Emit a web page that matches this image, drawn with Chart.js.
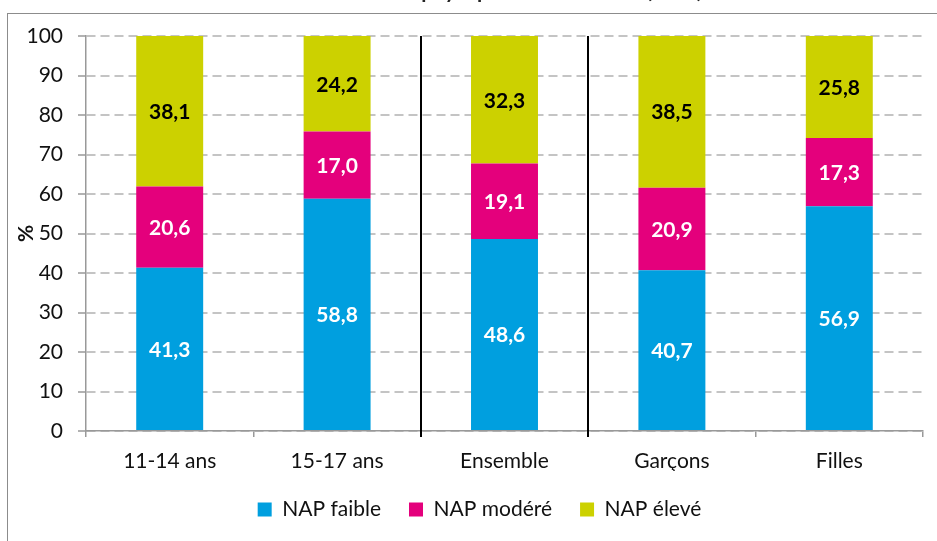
<!DOCTYPE html>
<html>
<head>
<meta charset="utf-8">
<script src="https://cdn.jsdelivr.net/npm/chart.js@4"></script>
<style>
    body { margin: 0; background: #fff; width: 937px; height: 541px; overflow: hidden; position: relative; }
    #frame { position: absolute; left: 7px; top: 13px; width: 1000px; height: 600px; border: 1px solid #8c8c8c; }
    #title { position: absolute; left: 0; width: 962px; top: -23px; text-align: center; font: bold 21px Lato, sans-serif; color: #222; opacity: 0.99; will-change: transform; }
    #napChart { position: absolute; left: 0; top: 0; }
</style>
</head>
<body>
<div id="frame"></div>
<div id="title">Niveau d'activité physique des 11-17 ans (en %)</div>
<canvas id="napChart" width="937" height="541"></canvas>
<script>
const categories = ["11-14 ans", "15-17 ans", "Ensemble", "Garçons", "Filles"];
const napFaible = [41.3, 58.8, 48.6, 40.7, 56.9];
const napModere = [20.6, 17.0, 19.1, 20.9, 17.3];
const napEleve = [38.1, 24.2, 32.3, 38.5, 25.8];
const seriesNames = ["NAP faible", "NAP modéré", "NAP élevé"];
const separatorsAfter = [1, 2];

const fontFamily = "Lato, 'Open Sans', sans-serif";

// values written inside each segment, French decimal comma
const segmentLabels = {
    id: "segmentLabels",
    afterDatasetsDraw(chart) {
        const ctx = chart.ctx;
        ctx.save();
        ctx.font = "bold 21px " + fontFamily;
        ctx.textAlign = "center";
        ctx.textBaseline = "middle";
        chart.data.datasets.forEach((ds, i) => {
            chart.getDatasetMeta(i).data.forEach((bar, j) => {
                const p = bar.getCenterPoint();
                ctx.fillStyle = ds.labelColor;
                ctx.fillText(ds.data[j].toFixed(1).replace(".", ","), p.x, p.y + 1);
            });
        });
        ctx.restore();
    }
};

// black vertical lines between groups
const groupSeparators = {
    id: "groupSeparators",
    afterDatasetsDraw(chart) {
        const ctx = chart.ctx;
        const x = chart.scales.x;
        const area = chart.chartArea;
        ctx.save();
        ctx.strokeStyle = "#000";
        ctx.lineWidth = 2;
        separatorsAfter.forEach(i => {
            const px = Math.round((x.getPixelForValue(i) + x.getPixelForValue(i + 1)) / 2);
            ctx.beginPath();
            ctx.moveTo(px, area.top);
            ctx.lineTo(px, area.bottom + 6);
            ctx.stroke();
        });
        ctx.restore();
    }
};

// legend sits a little right of the canvas centre
const legendShift = {
    id: "legendShift",
    afterLayout(chart) {
        chart.legend.left += 18;
        chart.legend.right += 18;
    }
};

new Chart(document.getElementById("napChart"), {
    type: "bar",
    data: {
        labels: categories,
        datasets: [
            { label: seriesNames[0], data: napFaible, backgroundColor: "#009FDF", labelColor: "#fff" },
            { label: seriesNames[1], data: napModere, backgroundColor: "#E4007C", labelColor: "#fff" },
            { label: seriesNames[2], data: napEleve, backgroundColor: "#CCD100", labelColor: "#000" }
        ]
    },
    options: {
        responsive: false,
        animation: false,
        layout: { padding: { top: 36, right: 14, bottom: 11, left: 0 } },
        datasets: { bar: { categoryPercentage: 1, barPercentage: 0.4 } },
        scales: {
            x: {
                stacked: true,
                afterFit: s => { s.height = 40; },
                grid: { offset: true, drawOnChartArea: false, tickLength: 6, color: "#999", lineWidth: 1.5 },
                border: { color: "#999", width: 1.5 },
                ticks: { color: "#111", padding: 12, font: { family: fontFamily, size: 21 } }
            },
            y: {
                stacked: true,
                min: 0,
                max: 100,
                afterFit: s => { s.width = 86; },
                ticks: { stepSize: 10, color: "#111", padding: 15, font: { family: fontFamily, size: 21 } },
                grid: { color: "#c4c4c4", lineWidth: 2, tickLength: 8, tickColor: "#999", tickWidth: 1.5, tickBorderDash: [] },
                border: { color: "#999", width: 1.5, dash: [9, 5] },
                title: { display: true, text: "%", color: "#111", padding: { top: 14, bottom: 0 }, font: { family: fontFamily, size: 21, weight: "bold" } }
            }
        },
        plugins: {
            tooltip: { enabled: false },
            legend: {
                position: "bottom",
                labels: {
                    boxWidth: 14,
                    boxHeight: 14,
                    padding: 28,
                    color: "#111",
                    font: { family: fontFamily, size: 21 }
                }
            }
        }
    },
    plugins: [segmentLabels, groupSeparators, legendShift]
});
</script>
</body>
</html>
